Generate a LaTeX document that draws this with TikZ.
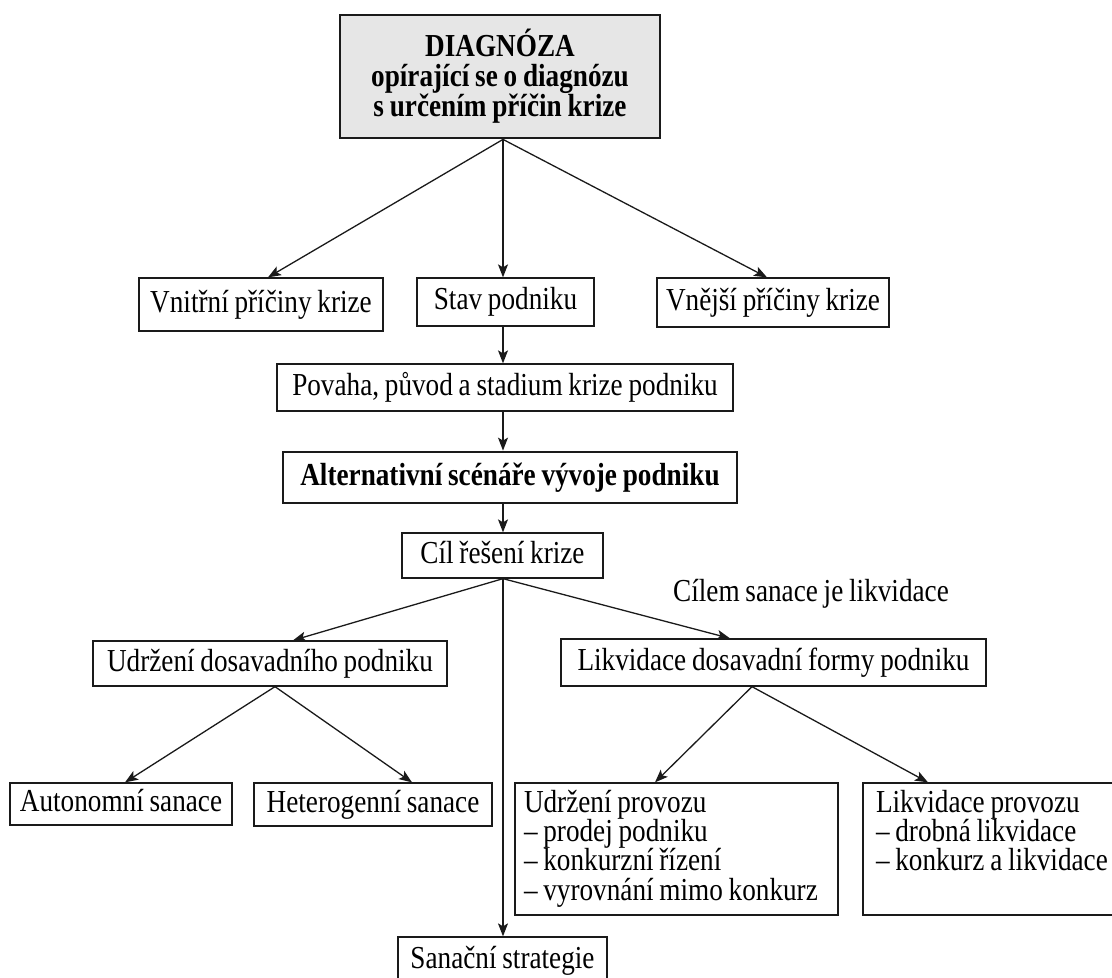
\documentclass[tikz,border=0pt]{standalone}
\usepackage{fontspec}
\setmainfont[FakeStretch=0.85, WordSpace={0.85,0,0}]{Liberation Serif}
\usetikzlibrary{arrows.meta,calc}
\definecolor{diaggray}{HTML}{E6E6E6}
\definecolor{ink}{HTML}{1A1A1A}
\newcommand\bigtxt{\fontsize{32}{29.3}\selectfont}
\newcommand\linesbox[2]{\parbox[c][130pt][t]{#1}{\vspace*{6pt}\raggedright #2}}
\begin{document}
\begin{tikzpicture}[x=1pt,y=-1pt,
  sbox/.style={draw=ink, line width=1.3pt, inner sep=0pt, font=\bigtxt, text height=22pt, text depth=7pt},
  thickbox/.style={sbox, line width=2.8pt, font=\bigtxt\bfseries},
  mbox/.style={draw=ink, line width=1.3pt, inner sep=0pt, font=\bigtxt},
  plaintxt/.style={inner sep=0pt, font=\bigtxt, text height=22pt, text depth=7pt},
  arr/.style={draw=ink, line width=1.3pt, -{Stealth[length=13pt,width=10pt,inset=3pt]}}
]
\useasboundingbox (0,0) rectangle (1112,978);

\node[draw=ink, line width=2.8pt, fill=diaggray, minimum width=320, minimum height=123, inner sep=0pt,
      align=center, font=\fontsize{32}{30}\selectfont\bfseries] (diag) at (500,76.5)
      {DIAGNÓZA\\opírající se o diagnózu\\s určením příčin krize};

\node[sbox, minimum width=244, minimum height=53] (vnitr) at (261,304.5) {Vnitřní příčiny krize};
\node[sbox, minimum width=177, minimum height=48] (stav) at (505.5,302) {Stav podniku};
\node[sbox, minimum width=232, minimum height=49] (vnejsi) at (773,302.5) {Vnější příčiny krize};
\node[sbox, minimum width=456, minimum height=47] (povaha) at (505,387.5) {Povaha, původ a stadium krize podniku};
\node[thickbox, minimum width=454, minimum height=51] (alt) at (510,477.5) {Alternativní scénáře vývoje podniku};
\node[sbox, minimum width=201, minimum height=45] (cil) at (502.5,555.5) {Cíl řešení krize};
\node[plaintxt] (cilem) at (811,593.5) {Cílem sanace je likvidace};
\node[sbox, minimum width=354, minimum height=45] (udrz) at (270,663.5) {Udržení dosavadního podniku};
\node[sbox, minimum width=425, minimum height=47] (likv) at (773.5,662.5) {Likvidace dosavadní formy podniku};
\node[sbox, minimum width=222, minimum height=42] (auton) at (121,804) {Autonomní sanace};
\node[sbox, minimum width=238, minimum height=43] (hetero) at (373,804.5) {Heterogenní sanace};
\node[mbox, minimum width=323, minimum height=132] (udrzprov) at (676.5,849)
  {\linesbox{305pt}{\mbox{Udržení provozu}\\\mbox{– prodej podniku}\\\mbox{– konkurzní řízení}\\\mbox{– vyrovnání mimo konkurz}}};
\node[mbox, minimum width=280, minimum height=132] (likvprov) at (1003,849)
  {\linesbox{254pt}{\mbox{Likvidace provozu}\\\mbox{– drobná likvidace}\\\mbox{– konkurz a likvidace}}};
\node[sbox, minimum width=209, minimum height=48] (sanacni) at (502.5,961) {Sanační strategie};

\coordinate (axis) at (503,0);
\draw[arr] (axis |- diag.south) -- ([xshift=7]vnitr.north);
\draw[arr] (axis |- diag.south) -- (axis |- stav.north);
\draw[arr] (axis |- diag.south) -- ([xshift=-6]vnejsi.north);
\draw[arr] (axis |- stav.south) -- (axis |- povaha.north);
\draw[arr] (axis |- povaha.south) -- (axis |- alt.north);
\draw[arr] (axis |- alt.south) -- (axis |- cil.north);
\draw[arr] (axis |- cil.south) -- ([xshift=23]udrz.north);
\draw[arr] (axis |- cil.south) -- ([xshift=-43.5]likv.north);
\draw[arr] (axis |- cil.south) -- (axis |- sanacni.north);
\draw[arr] ([xshift=5]udrz.south) -- ([xshift=4]auton.north);
\draw[arr] ([xshift=5]udrz.south) -- ([xshift=39]hetero.north);
\draw[arr] ([xshift=-21.5]likv.south) -- ([xshift=-21.5]udrzprov.north);
\draw[arr] ([xshift=-21.5]likv.south) -- ([xshift=-75]likvprov.north);
\end{tikzpicture}
\end{document}
